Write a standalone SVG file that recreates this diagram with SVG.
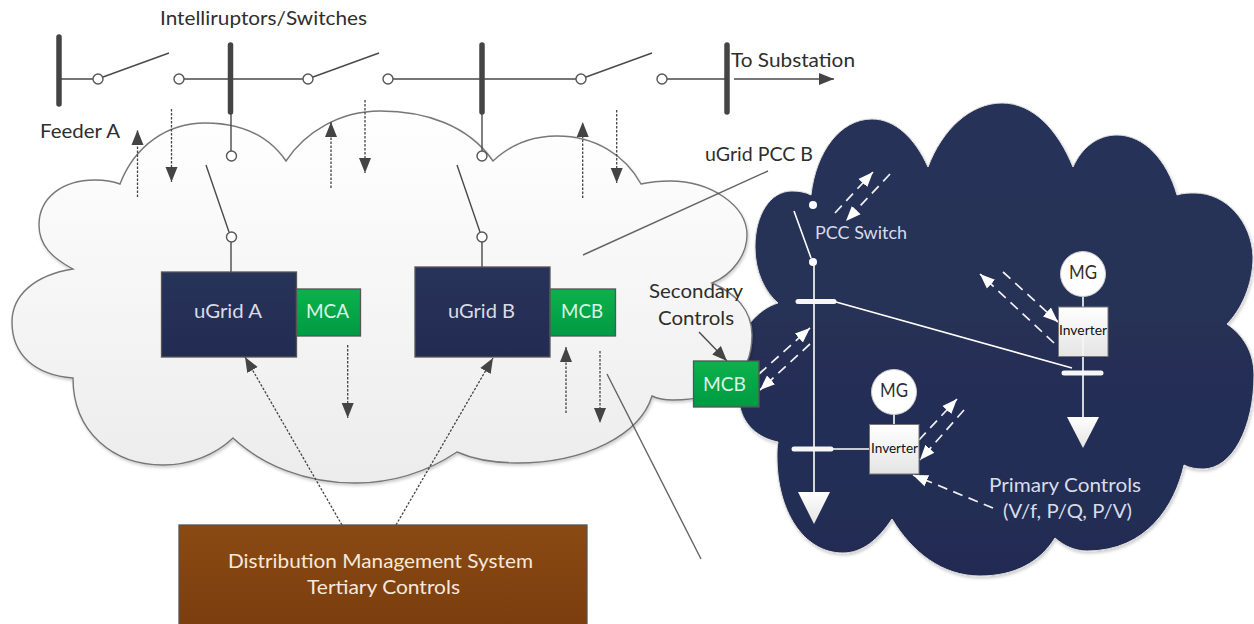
<svg xmlns="http://www.w3.org/2000/svg" width="1254" height="624" viewBox="0 0 1254 624">
<style>
text{font-family:"Lato","Noto Sans","Liberation Sans",sans-serif;font-size:19px}
.k{fill:#2e2e2e}.l{fill:#d9dce8}.g{fill:#dff3e6}.b{fill:#f5e9dd}
.w{stroke:#fff;stroke-width:1.6;fill:none}
.d{stroke:#4a4a4a;stroke-width:1.4;fill:none}
.bus{stroke:#444;stroke-width:5.5;stroke-linecap:round}
.wbus{stroke:#f6f6f6;stroke-width:5;stroke-linecap:round}
.dot{stroke:#444;stroke-width:1.3;stroke-dasharray:2.4 1.6;fill:none;marker-end:url(#dh)}
.wd{stroke:#f2f2f2;stroke-width:1.7;stroke-dasharray:10 6.5;fill:none;marker-end:url(#wh)}
.oc{fill:#fff;stroke:#555;stroke-width:1.4}
.box{stroke:#555;stroke-width:1.3}
.inv{fill:url(#gi);stroke:#777;stroke-width:1}
.tri{fill:url(#gi)}
.mg{fill:#fff;stroke:#ccc;stroke-width:1}
</style>
<defs>
<marker id="dh" markerUnits="userSpaceOnUse" markerWidth="16" markerHeight="14" refX="15" refY="7" orient="auto"><path d="M0,1L15,7L0,13z" fill="#444"/></marker>
<marker id="wh" markerUnits="userSpaceOnUse" markerWidth="16" markerHeight="14" refX="15" refY="7" orient="auto"><path d="M0,1L15,7L0,13z" fill="#fff"/></marker>
<linearGradient id="gc" x1="0" y1="0" x2="0" y2="1"><stop offset="0" stop-color="#fff"/><stop offset="1" stop-color="#ececec"/></linearGradient>
<linearGradient id="gn" x1="0" y1="0" x2="0" y2="1"><stop offset="0" stop-color="#283359"/><stop offset="1" stop-color="#222c52"/></linearGradient>
<linearGradient id="gg" x1="0" y1="0" x2="0" y2="1"><stop offset="0" stop-color="#0bb24c"/><stop offset="1" stop-color="#009a42"/></linearGradient>
<linearGradient id="gb" x1="0" y1="0" x2="0" y2="1"><stop offset="0" stop-color="#8a4a13"/><stop offset="1" stop-color="#7a3d0e"/></linearGradient>
<linearGradient id="gi" x1="0" y1="0" x2="0" y2="1"><stop offset="0" stop-color="#fff"/><stop offset="1" stop-color="#e4e4e4"/></linearGradient>
<filter id="sh" x="-5%" y="-5%" width="110%" height="110%"><feDropShadow dx="1" dy="2" stdDeviation="1.500" flood-color="#000" flood-opacity="0.2"/></filter>
</defs>
<g id="cloud-b">
<path d="M811,195C816,152 840,119 872,119C895,119 915,138 928,167C942,130 970,103 1002,103C1033,103 1058,130 1073,167C1082,147 1098,135 1117,135C1144,135 1167,160 1177,195C1183,193 1189,193 1195,193C1226,193 1252,222 1253,257C1253,285 1241,310 1227,324C1243,335 1254,352 1254,375C1254,428 1232,469 1203,469C1196,469 1190,468 1184,465C1175,505 1147,551 1087,551C1075,551 1064,546 1055,538C1040,562 1015,576 980,576C942,576 912,552 892,519C878,540 862,553 843,553C803,553 777,510 777,457C777,451 777,447 778,442C758,438 744,425 740,407C730,385 730,335 750,323C758,313 768,306 778,303C765,292 755,272 755,247C755,215 770,191 792,191C799,191 805,192 811,195Z" fill="url(#gn)" stroke="#ddd" stroke-width="1" filter="url(#sh)"/>
</g>
<g id="cloud-a">
<path d="M120,184C135,145 168,123 205,123C240,123 268,135 286,161C305,132 340,111 380,111C425,111 468,125 493,161C510,145 530,136 557,136C595,136 625,155 641,184C650,182 660,181 670,181C710,181 747,205 747,235C747,255 732,275 712,283C735,293 752,310 752,335C752,375 725,400 673,400C665,400 658,399 652,396C640,435 585,463 517,463C495,463 475,460 457,452C430,470 395,483 355,483C305,483 262,465 233,438C215,455 190,465 163,465C113,465 73,432 73,378C35,375 12,355 12,322C12,295 35,275 73,269C52,258 39,245 39,225C39,198 62,180 95,180C104,180 112,181 120,184Z" fill="url(#gc)" stroke="#777" stroke-width="1.4" filter="url(#sh)"/>
</g>
<g id="connectors">
<path class="d" d="M59,79H93M103,77L169,53M184,79H303M313,77L379,53M393,79H576M586,77L652,53M667,79H727"/>
<path class="d" d="M734,79H834" marker-end="url(#dh)"/>
<path class="d" d="M231,113V151M206,165L229,232M231,242V272M482,113V151M457,165L480,232M482,242V267"/>
<path class="dot" d="M137.500,197V130"/>
<path class="dot" d="M171.500,109V182"/>
<path class="dot" d="M331,188V122"/>
<path class="dot" d="M365,100V173"/>
<path class="dot" d="M582.700,198V122"/>
<path class="dot" d="M616.700,110V183"/>
<path class="dot" d="M347.700,345V418"/>
<path class="dot" d="M566,413V347"/>
<path class="dot" d="M600,351V423"/>
<path class="dot" d="M342,525L245,357"/>
<path class="dot" d="M396,525L493,358"/>
<path class="d" stroke-opacity="0.85" d="M583,255L768,171M607,374L701,559"/>
<path class="d" d="M699,332L727,361" marker-end="url(#dh)"/>
<path class="w" d="M794,211L811,258M814,262V495M836,302L1072,368M1083,297V420M833,449H869M894,414V424"/>
<path class="wd" d="M835,213L873,172"/>
<path class="wd" d="M890,174L846,221"/>
<path class="wd" d="M759,374L810,328"/>
<path class="wd" d="M810,344L760,390"/>
<path class="wd" d="M1054,343L980,274"/>
<path class="wd" d="M1003,272L1058,322"/>
<path class="wd" d="M919,440L957,399"/>
<path class="wd" d="M964,410L920,460"/>
<path class="wd" d="M993,508L913,475"/>
</g>
<g id="buses">
<path class="bus" d="M59,37V104"/><path class="bus" d="M230.500,45V112"/><path class="bus" d="M482,45V112"/><path class="bus" d="M727,45V112"/>
<path class="wbus" d="M798,301.500H834"/><path class="wbus" d="M1064,373H1101"/><path class="wbus" d="M794,449H831"/>
</g>
<g id="switch-contacts">
<circle class="oc" cx="98" cy="79" r="5"/><circle class="oc" cx="179" cy="79" r="5"/><circle class="oc" cx="308" cy="79" r="5"/><circle class="oc" cx="388" cy="79" r="5"/><circle class="oc" cx="581" cy="79" r="5"/><circle class="oc" cx="662" cy="79" r="5"/>
<circle class="oc" cx="231.500" cy="156" r="5"/><circle class="oc" cx="231.500" cy="237" r="5"/><circle class="oc" cx="482" cy="156" r="5"/><circle class="oc" cx="482" cy="237" r="5"/>
<circle cx="813" cy="205" r="4" fill="#fff"/><circle cx="813" cy="262" r="4" fill="#fff"/>
</g>
<g id="loads">
<path class="tri" d="M798,492H830L814,524Z"/><path class="tri" d="M1067,417H1099L1083,448Z"/>
</g>
<g id="ugrid-a"><rect class="box" x="161.500" y="272" width="135" height="85" fill="url(#gn)"/><text class="l" x="194" y="318" textLength="68" lengthAdjust="spacingAndGlyphs">uGrid A</text></g>
<g id="mca"><rect class="box" x="296.500" y="289" width="64" height="47" fill="url(#gg)"/><text class="g" x="306" y="318" textLength="43" lengthAdjust="spacingAndGlyphs">MCA</text></g>
<g id="ugrid-b"><rect class="box" x="415" y="267" width="135" height="90" fill="url(#gn)"/><text class="l" x="448" y="318" textLength="67" lengthAdjust="spacingAndGlyphs">uGrid B</text></g>
<g id="mcb"><rect class="box" x="550" y="289" width="65.500" height="47" fill="url(#gg)"/><text class="g" x="561" y="318" textLength="42" lengthAdjust="spacingAndGlyphs">MCB</text></g>
<g id="mcb-2"><rect class="box" x="693.500" y="361" width="65.500" height="46" fill="url(#gg)"/><text class="g" x="703" y="391" textLength="43" lengthAdjust="spacingAndGlyphs">MCB</text></g>
<g id="dms"><rect class="box" x="179" y="525" width="408" height="104" fill="url(#gb)"/><text class="b" x="228" y="568" textLength="305" lengthAdjust="spacingAndGlyphs">Distribution Management System</text><text class="b" x="307" y="594" textLength="153" lengthAdjust="spacingAndGlyphs">Tertiary Controls</text></g>
<g id="mg-1"><circle class="mg" cx="1083" cy="274" r="22.500"/><text class="k" x="1069" y="279" textLength="28" lengthAdjust="spacingAndGlyphs">MG</text></g>
<g id="inverter-1"><rect class="inv" x="1058.500" y="307" width="49.500" height="49.500"/><path d="M1083,335V356" stroke="#fff" stroke-width="1"/><text class="k" x="1059" y="335" style="font-size:13px;fill:#111" textLength="48" lengthAdjust="spacingAndGlyphs">Inverter</text></g>
<g id="mg-2"><circle class="mg" cx="894" cy="392" r="22.500"/><text class="k" x="880" y="397" textLength="28" lengthAdjust="spacingAndGlyphs">MG</text></g>
<g id="inverter-2"><rect class="inv" x="869.500" y="424.500" width="49.500" height="49.500"/><text class="k" x="871" y="453" style="font-size:13px;fill:#111" textLength="47" lengthAdjust="spacingAndGlyphs">Inverter</text></g>
<g id="labels">
<text class="k" x="160" y="25" textLength="207" lengthAdjust="spacingAndGlyphs">Intelliruptors/Switches</text>
<text class="k" x="40" y="138" textLength="80" lengthAdjust="spacingAndGlyphs">Feeder A</text>
<text class="k" x="731" y="67" textLength="124" lengthAdjust="spacingAndGlyphs">To Substation</text>
<text class="k" x="705" y="161" textLength="108" lengthAdjust="spacingAndGlyphs">uGrid PCC B</text>
<text class="k" x="649" y="298" textLength="94" lengthAdjust="spacingAndGlyphs">Secondary</text>
<text class="k" x="658" y="325" textLength="76" lengthAdjust="spacingAndGlyphs">Controls</text>
<text class="l" x="815" y="239" textLength="92" style="font-size:17px" lengthAdjust="spacingAndGlyphs">PCC Switch</text>
<text class="l" x="989" y="492" textLength="152" lengthAdjust="spacingAndGlyphs">Primary Controls</text>
<text class="l" x="1003" y="518" textLength="129" lengthAdjust="spacingAndGlyphs">(V/f, P/Q, P/V)</text>
</g>
</svg>
